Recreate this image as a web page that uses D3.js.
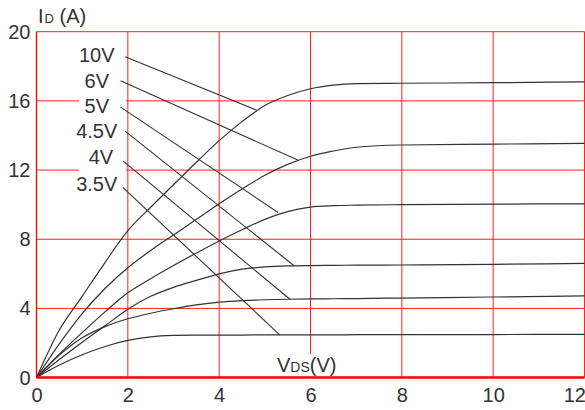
<!DOCTYPE html>
<html>
<head>
<meta charset="utf-8">
<script src="https://cdn.jsdelivr.net/npm/d3@7"></script>
<style>
  body { margin: 0; background: #fff; }
  text { font-family: "Liberation Sans", Arial, sans-serif; fill: #333; }
</style>
</head>
<body>
<script>
// drain voltage samples (V) and drain current per gate voltage (A)
const vds = [0, 0.5, 1, 1.5, 2, 2.5, 3, 3.5, 4, 4.5, 5, 5.5, 6, 6.5, 7, 8, 10, 12];
const id10 = [0, 2.75, 4.7, 6.65, 8.5, 9.85, 11.15, 12.45, 13.7, 14.8, 15.73, 16.31, 16.7, 16.91, 17.0, 17.02, 17.05, 17.1];
const id6 = [0, 1.95, 3.7, 5.15, 6.35, 7.35, 8.25, 9.15, 10.05, 10.9, 11.7, 12.33, 12.8, 13.1, 13.32, 13.45, 13.5, 13.54];
const id5 = [0, 1.35, 2.6, 3.8, 4.9, 5.72, 6.48, 7.2, 7.9, 8.55, 9.15, 9.6, 9.86, 9.94, 9.97, 10.0, 10.03, 10.05];
const id45 = [0, 1.05, 2.05, 3.0, 3.95, 4.7, 5.22, 5.62, 6.0, 6.27, 6.4, 6.46, 6.48, 6.49, 6.5, 6.51, 6.55, 6.6];
const id4 = [0, 1.3, 2.3, 2.95, 3.4, 3.72, 3.98, 4.2, 4.36, 4.45, 4.5, 4.53, 4.55, 4.56, 4.57, 4.6, 4.66, 4.73];
const id35 = [0, 0.73, 1.32, 1.8, 2.15, 2.36, 2.44, 2.46, 2.46, 2.46, 2.47, 2.47, 2.47, 2.47, 2.48, 2.48, 2.49, 2.5];

const gateLabels = ["10V", "6V", "5V", "4.5V", "4V", "3.5V"];
const labelV = [1.32, 1.32, 1.32, 1.32, 1.41, 1.32];
const labelI = [18.22, 16.72, 15.28, 13.83, 12.33, 10.8];
const leadStartV = [1.94, 1.84, 1.84, 1.94, 1.90, 1.89];
const leadStartI = [18.55, 17.16, 15.64, 14.25, 12.52, 11.0];
const leadEndV = [4.82, 5.72, 5.29, 5.64, 5.55, 5.33];
const leadEndI = [15.47, 12.58, 9.55, 6.47, 4.53, 2.46];

const xTicks = [0, 2, 4, 6, 8, 10, 12];
const yTicks = [0, 4, 8, 12, 16, 20];

const width = 585, height = 410;

const svg = d3.select('body').append('svg')
    .attr('width', width)
    .attr('height', height);

const x = d3.scaleLinear().domain([0, 12]).range([36.5, 584.5]);
const y = d3.scaleLinear().domain([0, 20]).range([377.6, 31.7]);

// grid
const grid = svg.append('g')
    .attr('stroke', '#ff2020')
    .attr('stroke-width', 1);
grid.selectAll('.hg').data(yTicks.slice(1))
    .enter().append('line')
    .attr('x1', x(0)).attr('x2', x(12))
    .attr('y1', d => y(d)).attr('y2', d => y(d));
grid.selectAll('.vg').data(xTicks)
    .enter().append('line')
    .attr('x1', d => x(d)).attr('x2', d => x(d))
    .attr('y1', y(0)).attr('y2', y(20));

// white boxes behind labels
svg.append('rect')
    .attr('x', 79).attr('y', 44)
    .attr('width', 47).attr('height', 152)
    .attr('fill', '#fff');
svg.append('rect')
    .attr('x', 274).attr('y', 354)
    .attr('width', 72).attr('height', 22)
    .attr('fill', '#fff');

// curves
const series = [id10, id6, id5, id45, id4, id35];
const line = d3.line()
    .x((d, i) => x(vds[i]))
    .y(d => y(d))
    .curve(d3.curveMonotoneX);

svg.append('g').selectAll('path').data(series)
    .enter().append('path')
    .attr('d', line)
    .attr('fill', 'none')
    .attr('stroke', '#333')
    .attr('stroke-width', 1.2);

// leader lines + labels
svg.append('g').selectAll('line').data(gateLabels)
    .enter().append('line')
    .attr('x1', (d, i) => x(leadStartV[i]))
    .attr('y1', (d, i) => y(leadStartI[i]))
    .attr('x2', (d, i) => x(leadEndV[i]))
    .attr('y2', (d, i) => y(leadEndI[i]))
    .attr('stroke', '#333')
    .attr('stroke-width', 1.1);

svg.append('g').selectAll('text').data(gateLabels)
    .enter().append('text')
    .attr('x', (d, i) => x(labelV[i]))
    .attr('y', (d, i) => y(labelI[i]))
    .attr('text-anchor', 'middle')
    .attr('font-size', 20)
    .text(d => d);

// axes tick labels
const xAxis = svg.append('g')
    .attr('transform', `translate(0,${y(0)})`)
    .call(d3.axisBottom(x).tickValues(xTicks).tickSize(0).tickPadding(10));
const yAxis = svg.append('g')
    .attr('transform', `translate(${x(0)},0)`)
    .call(d3.axisLeft(y).tickValues(yTicks).tickSize(0).tickPadding(6));
[xAxis, yAxis].forEach(a => {
    a.select('.domain').remove();
    a.selectAll('text')
        .attr('font-size', 20)
        .attr('font-family', '"Liberation Sans", Arial, sans-serif')
        .attr('fill', '#333');
});
xAxis.selectAll('.tick').filter(d => d === 12).select('text')
    .attr('text-anchor', 'end').attr('dx', 1);

// frame
svg.append('line')
    .attr('x1', x(0)).attr('x2', x(12))
    .attr('y1', y(0)).attr('y2', y(0))
    .attr('stroke', '#ff0000').attr('stroke-width', 2.5);
svg.append('line')
    .attr('x1', x(0)).attr('x2', x(0))
    .attr('y1', y(0)).attr('y2', y(20))
    .attr('stroke', '#ff0000').attr('stroke-width', 1.3);

// axis titles
const yt = svg.append('text').attr('x', 38).attr('y', 23).attr('font-size', 20);
yt.append('tspan').text('I');
yt.append('tspan').attr('font-size', 13).attr('dx', 1).text('D');
yt.append('tspan').text(' (A)');

const xt = svg.append('text').attr('x', 277).attr('y', 372).attr('font-size', 20);
xt.append('tspan').text('V');
xt.append('tspan').attr('font-size', 14).text('DS');
xt.append('tspan').text('(V)');
</script>
</body>
</html>
